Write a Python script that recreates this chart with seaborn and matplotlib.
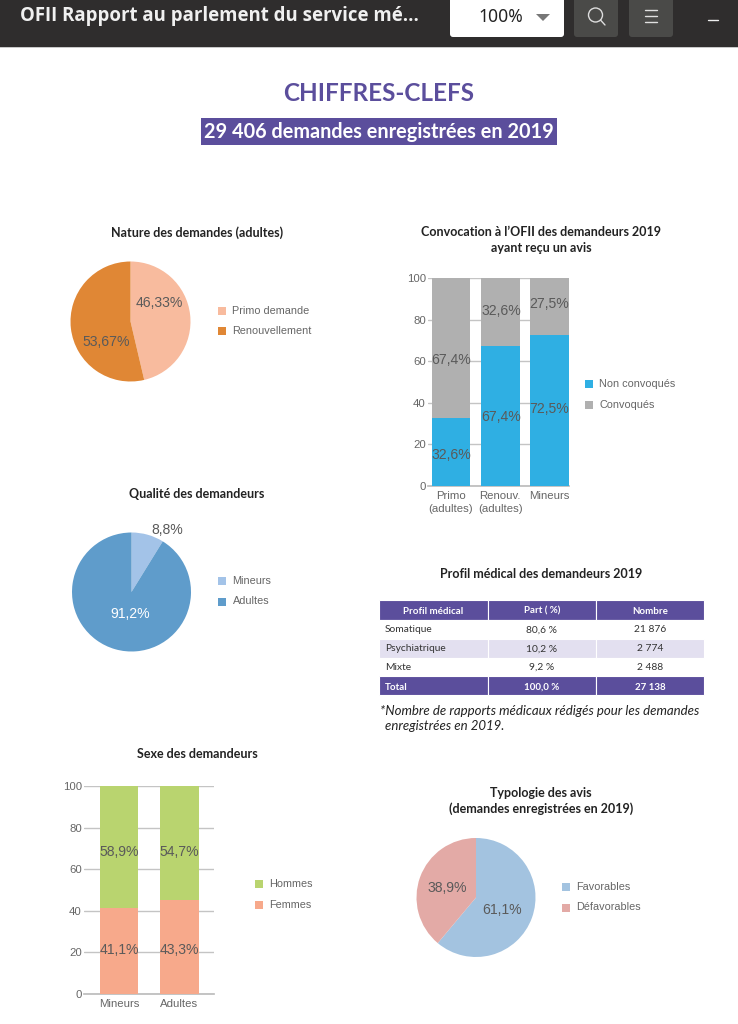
import matplotlib
matplotlib.use('Agg')
import matplotlib.pyplot as plt
from matplotlib.patches import Rectangle, FancyBboxPatch, Circle, Polygon
import seaborn as sns

# ─────────────────────────────────────────────
# 1. DATA
# ─────────────────────────────────────────────
nature_labels = ['Primo demande', 'Renouvellement']
nature_values = [46.33, 53.67]
nature_text = ['46,33%', '53,67%']

qualite_labels = ['Mineurs', 'Adultes']
qualite_values = [8.8, 91.2]
qualite_text = ['8,8%', '91,2%']

avis_labels = ['Favorables', 'Défavorables']
avis_values = [61.1, 38.9]
avis_text = ['61,1%', '38,9%']

convoc_cats = ['Primo\n(adultes)', 'Renouv.\n(adultes)', 'Mineurs']
convoc_non = [32.6, 67.4, 72.5]
convoc_oui = [67.4, 32.6, 27.5]
convoc_non_text = ['32,6%', '67,4%', '72,5%']
convoc_oui_text = ['67,4%', '32,6%', '27,5%']

sexe_cats = ['Mineurs', 'Adultes']
sexe_femmes = [41.1, 45.3]
sexe_hommes = [58.9, 54.7]
sexe_femmes_text = ['41,1%', '43,3%']
sexe_hommes_text = ['58,9%', '54,7%']

table_head = ['Profil médical', 'Part ( %)', 'Nombre']
table_rows = [['Somatique', '80,6 %', '21 876'],
              ['Psychiatrique', '10,2 %', '2 774'],
              ['Mixte', '9,2 %', '2 488']]
table_total = ['Total', '100,0 %', '27 138']

W, H = 738, 1024
PURPLE = '#5b4e9c'
TXT = '#5a5a5a'
LEG = '#666666'
TITLE = '#222222'
HELV = 'Liberation Sans'
CAL = 'Lato'

sns.set_theme(style='white')
fig = plt.figure(figsize=(W / 100, H / 100), dpi=100, facecolor='white')

# page axes in pixel coordinates, for everything that is not a chart
page = fig.add_axes([0, 0, 1, 1], zorder=10)
page.set_xlim(0, W)
page.set_ylim(H, 0)
page.axis('off')
page.patch.set_alpha(0)


def make_axes(x0, y0, x1, y1):
    # axes from a pixel box
    ax = fig.add_axes([x0 / W, 1 - y1 / H, (x1 - x0) / W, (y1 - y0) / H])
    ax.patch.set_alpha(0)
    return ax


def pie_chart(cx, cy, r, values, colors, startangle):
    ax = make_axes(cx - r, cy - r, cx + r, cy + r)
    ax.pie(values, colors=colors, startangle=startangle, counterclock=False, radius=1,
           wedgeprops=dict(linewidth=0))
    ax.set_xlim(-1, 1)
    ax.set_ylim(-1, 1)


def legend(x, y, labels, colors, step=20.5):
    for i, (lab, col) in enumerate(zip(labels, colors)):
        page.add_patch(Rectangle((x, y + i * step - 4), 8, 8, color=col, lw=0))
        page.text(x + 14.5, y + i * step, lab, fontsize=7.8, family=HELV, color=LEG, va='center')


def stacked(box, cats, low, high, low_col, high_col, width, x0_px, step_px):
    ax = make_axes(*box)
    total = [a + b for a, b in zip(low, high)]
    sns.barplot(x=cats, y=total, color=high_col, saturation=1, width=width, ax=ax, zorder=3, linewidth=0)
    sns.barplot(x=cats, y=low, color=low_col, saturation=1, width=width, ax=ax, zorder=3, linewidth=0)
    ax.set_xlim((box[0] - x0_px) / step_px, (box[2] - x0_px) / step_px)
    ax.set_ylim(0, 100)
    ax.set_yticks([0, 20, 40, 60, 80, 100])
    ax.yaxis.grid(True, color='#c4c4c4', lw=1, zorder=0)
    ax.set_axisbelow(True)
    sns.despine(ax=ax, left=True, top=True, right=True)
    ax.spines['bottom'].set_color('#bdbdbd')
    ax.tick_params(axis='both', length=0, labelsize=8.2, labelcolor=LEG)
    ax.tick_params(axis='x', pad=4)
    ax.tick_params(axis='y', pad=1.5)
    for lab in ax.get_xticklabels() + ax.get_yticklabels():
        lab.set_family(HELV)
    for lab in ax.get_xticklabels():
        lab.set_linespacing(1.3)
    ax.set_xlabel('')
    ax.set_ylabel('')
    return ax


def pct(x, y, s, color=TXT, size=10.1):
    page.text(x, y, s, fontsize=size, family=HELV, color=color, ha='center', va='center')


def title(x, y, s):
    page.text(x, y, s, fontsize=9.0, family=CAL, weight='bold', color=TITLE,
              ha='center', va='center', linespacing=1.35)


def cell(x, y, s, ha='center', bold=False):
    page.text(x, y, s, fontsize=7.0 if bold else 7.4, family=CAL, weight='bold' if bold else 'normal',
              color='white' if bold else '#333333', ha=ha, va='baseline')


# ─────────────────────────────────────────────
# 2. VIEWER BAR + HEADINGS
# ─────────────────────────────────────────────
page.add_patch(Rectangle((0, 0), W, 47, color='#2f2d2d', lw=0))
page.add_patch(Rectangle((0, 47), W, 1.2, color='#c8c8c8', lw=0))
page.text(20, 16.5, 'OFII Rapport au parlement du service mé...', fontsize=13.4,
          family='Open Sans', weight='bold', color='#f0f0f0', va='center')
page.add_patch(FancyBboxPatch((450, -6), 114, 43, boxstyle='round,pad=0,rounding_size=3',
                              fc='white', ec='none'))
page.text(501, 17, '100%', fontsize=12.6, family='Noto Sans', color='#222222', ha='center', va='center')
page.add_patch(Polygon([[536, 14], [550, 14], [543, 21]], color='#777777', lw=0))
for bx in [574, 629]:
    page.add_patch(FancyBboxPatch((bx, -6), 44, 43, boxstyle='round,pad=0,rounding_size=3',
                                  fc='#4a4a48', ec='none'))
page.add_patch(Circle((595.5, 15), 7, fc='none', ec='#dddddd', lw=1))
page.plot([600.5, 605], [20, 25], color='#dddddd', lw=1)
for yy in [10, 16, 22]:
    page.plot([645, 657], [yy, yy], color='#e0e0e0', lw=1)
page.plot([708, 718], [19.5, 19.5], color='#eeeeee', lw=1)

page.text(379, 93.5, 'CHIFFRES-CLEFS', fontsize=17.5, family=CAL, weight='bold', color=PURPLE,
          ha='center', va='center')
page.add_patch(Rectangle((201, 117.5), 356, 27.5, color=PURPLE, lw=0))
page.text(379, 132, '29 406 demandes enregistrées en 2019', fontsize=14.3, family=CAL, weight='bold',
          color='white', ha='center', va='center')

# ─────────────────────────────────────────────
# 3. NATURE DES DEMANDES
# ─────────────────────────────────────────────
nature_cols = ['#f8bb9e', '#e08735']
title(197, 233, 'Nature des demandes (adultes)')
pie_chart(130.5, 321.5, 60, nature_values, nature_cols, 90)
pct(159, 303, nature_text[0])
pct(106, 341.5, nature_text[1])
legend(218, 310.5, nature_labels, nature_cols)

# ─────────────────────────────────────────────
# 4. CONVOCATION
# ─────────────────────────────────────────────
title(541, 240, 'Convocation à l’OFII des demandeurs 2019\nayant reçu un avis')
stacked((428, 278, 569, 485.7), convoc_cats, convoc_non, convoc_oui, '#2fafe3', '#b0b0b0', 0.78, 451, 49.3)
for px, a, b, ya, yb in zip([451, 501, 549.5], convoc_non_text, convoc_oui_text,
                            [455, 417, 409], [360.5, 311, 304.5]):
    pct(px, ya, a)
    pct(px, yb, b)
legend(584.5, 384, ['Non convoqués', 'Convoqués'], ['#2fafe3', '#b0b0b0'])

# ─────────────────────────────────────────────
# 5. QUALITE DES DEMANDEURS
# ─────────────────────────────────────────────
qual_cols = ['#a3c3e8', '#5f9ccb']
title(197, 494, 'Qualité des demandeurs')
pie_chart(131.5, 592, 59.5, qualite_values, qual_cols, 90)
pct(167.5, 529.5, qualite_text[0])
pct(130.5, 614, qualite_text[1], color='white')
legend(218, 581, qualite_labels, qual_cols)

# ─────────────────────────────────────────────
# 6. TABLE
# ─────────────────────────────────────────────
title(541, 574, 'Profil médical des demandeurs 2019')
col_x = [379, 487.5, 596, 704]
col_c = [433, 542, 650]
row_y = [600, 619.5, 638.5, 657.5, 676, 695]
fills = [PURPLE, 'white', '#e3e0f0', 'white', PURPLE]
for r in range(5):
    for c in range(3):
        page.add_patch(Rectangle((col_x[c], row_y[r]), col_x[c + 1] - col_x[c], row_y[r + 1] - row_y[r],
                                 fc=fills[r], ec='white', lw=0.8))
for c in range(3):
    cell(col_c[c], 613.5, table_head[c], bold=True)
for r, row in enumerate(table_rows):
    yy = 632.5 + r * 18.8
    cell(385, yy, row[0], ha='left')
    cell(col_c[1], yy, row[1])
    cell(col_c[2], yy, row[2])
cell(385, 689.5, table_total[0], ha='left', bold=True)
cell(col_c[1], 689.5, table_total[1], bold=True)
cell(col_c[2], 689.5, table_total[2], bold=True)
page.text(380, 711, '*Nombre de rapports médicaux rédigés pour les demandes', fontsize=9.55, family=CAL,
          style='italic', color='#222222', va='center')
page.text(385, 726, 'enregistrées en 2019.', fontsize=9.55, family=CAL, style='italic', color='#222222',
          va='center')

# ─────────────────────────────────────────────
# 7. SEXE DES DEMANDEURS
# ─────────────────────────────────────────────
title(197, 753.5, 'Sexe des demandeurs')
stacked((84, 786, 214, 993.7), sexe_cats, sexe_femmes, sexe_hommes, '#f7a98b', '#b9d46f', 0.63, 119, 60.5)
for px, a, b in zip([119, 179.5], sexe_femmes_text, sexe_hommes_text):
    pct(px, 950, a)
    pct(px, 851.7, b)
legend(255, 884, ['Hommes', 'Femmes'], ['#b9d46f', '#f7a98b'])

# ─────────────────────────────────────────────
# 8. TYPOLOGIE DES AVIS
# ─────────────────────────────────────────────
avis_cols = ['#a3c3e0', '#e3aaa6']
title(541, 801, 'Typologie des avis\n(demandes enregistrées en 2019)')
pie_chart(476, 897.5, 59.5, avis_values, avis_cols, 90)
pct(502, 910, avis_text[0])
pct(447, 888, avis_text[1])
legend(562, 887, avis_labels, avis_cols)

plt.savefig('out.png', dpi=100)
plt.close()
